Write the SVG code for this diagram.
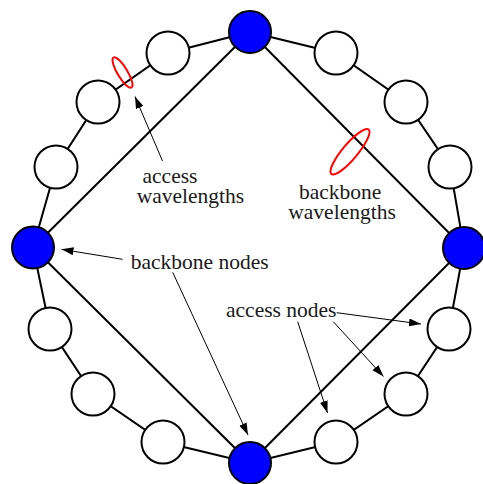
<svg xmlns="http://www.w3.org/2000/svg" width="483" height="484" viewBox="0 0 483 484">
<style>
.edge{stroke:#000;stroke-width:2;fill:none}
.ptr{stroke:#000;stroke-width:1;fill:none;marker-end:url(#ah)}
.bb{fill:#0000ff;stroke:#000;stroke-width:2}
.ac{fill:#fff;stroke:#000;stroke-width:2}
.wl{fill:none;stroke:#ff0000;stroke-width:2}
text{font-family:"Liberation Serif","Times New Roman",serif;font-size:21.5px;fill:#1a1a1a}
</style>
<defs>
<marker id="ah" markerUnits="userSpaceOnUse" markerWidth="13" markerHeight="9" refX="12" refY="4" orient="auto">
<path d="M0,0 L12,4 L0,8 z" fill="#000"/>
</marker>
</defs>
<g id="connectors">
<polyline class="edge" points="250,32 336,53 406,102 450,167 464,248 449,329 406,394 336,442 250,463 163,442 93,394 50,329 33,247.5 56,167 98,102 168,53 250,32"/>
<polygon class="edge" points="250,32 464,248 250,463 33,247.5"/>
<line class="ptr" x1="162.5" y1="161" x2="135" y2="96.5"/>
<line class="ptr" x1="122.5" y1="259.3" x2="61.5" y2="249.3"/>
<line class="ptr" x1="172.7" y1="272.3" x2="248" y2="435"/>
<line class="ptr" x1="336.7" y1="312.7" x2="421" y2="324"/>
<line class="ptr" x1="333.3" y1="321.7" x2="383.5" y2="376.5"/>
<line class="ptr" x1="297.7" y1="321.7" x2="327.5" y2="413"/>
</g>
<g id="wavelengths">
<ellipse class="wl" cx="122.5" cy="72.5" rx="17.5" ry="5" transform="rotate(59 122.5 72.5)"/>
<ellipse class="wl" cx="350" cy="151.7" rx="29" ry="7.5" transform="rotate(-50 350 151.7)"/>
</g>
<g id="bn-top"><circle class="bb" cx="250" cy="32" r="21"/></g>
<g id="bn-right"><circle class="bb" cx="464" cy="248" r="21"/></g>
<g id="bn-bottom"><circle class="bb" cx="250" cy="463" r="21"/></g>
<g id="bn-left"><circle class="bb" cx="33" cy="247.5" r="21"/></g>
<g id="an1"><circle class="ac" cx="336" cy="53" r="21.5"/></g>
<g id="an2"><circle class="ac" cx="406" cy="102" r="21.5"/></g>
<g id="an3"><circle class="ac" cx="450" cy="167" r="21.5"/></g>
<g id="an4"><circle class="ac" cx="449" cy="329" r="21.5"/></g>
<g id="an5"><circle class="ac" cx="406" cy="394" r="21.5"/></g>
<g id="an6"><circle class="ac" cx="336" cy="442" r="21.5"/></g>
<g id="an7"><circle class="ac" cx="163" cy="442" r="21.5"/></g>
<g id="an8"><circle class="ac" cx="93" cy="394" r="21.5"/></g>
<g id="an9"><circle class="ac" cx="50" cy="329" r="21.5"/></g>
<g id="an10"><circle class="ac" cx="56" cy="167" r="21.5"/></g>
<g id="an11"><circle class="ac" cx="98" cy="102" r="21.5"/></g>
<g id="an12"><circle class="ac" cx="168" cy="53" r="21.5"/></g>
<g id="labels">
<text x="142.5" y="183.3">access</text>
<text x="136.7" y="203.3">wavelengths</text>
<text x="299" y="199.3">backbone</text>
<text x="288.3" y="219.3">wavelengths</text>
<text x="130.7" y="269.3">backbone nodes</text>
<text x="226" y="316.7">access nodes</text>
</g>
</svg>
